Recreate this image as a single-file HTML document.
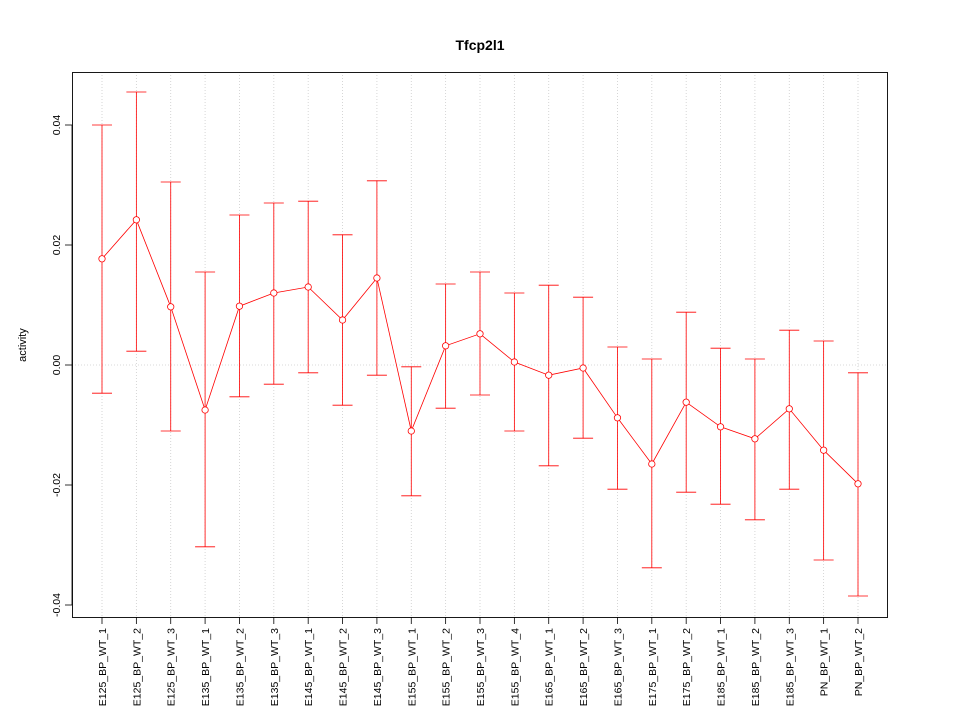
<!DOCTYPE html>
<html><head><meta charset="utf-8"><style>body{margin:0;background:#fff}svg{display:block}</style></head>
<body>
<svg id="chart" width="960" height="720" xmlns="http://www.w3.org/2000/svg" font-family="Liberation Sans, sans-serif">
<rect width="960" height="720" fill="#fff"/>
<text x="480" y="50" text-anchor="middle" font-size="14" font-weight="bold">Tfcp2l1</text>
<text transform="translate(26,345) rotate(-90)" text-anchor="middle" font-size="11">activity</text>
<g id="grid"></g><g id="axes"></g><g id="marks"></g>
<rect x="72.5" y="72.5" width="815" height="545" fill="none" stroke="#000" stroke-width="0.9"/>
</svg>
<script>
const categories=["E125_BP_WT_1","E125_BP_WT_2","E125_BP_WT_3","E135_BP_WT_1","E135_BP_WT_2","E135_BP_WT_3","E145_BP_WT_1","E145_BP_WT_2","E145_BP_WT_3","E155_BP_WT_1","E155_BP_WT_2","E155_BP_WT_3","E155_BP_WT_4","E165_BP_WT_1","E165_BP_WT_2","E165_BP_WT_3","E175_BP_WT_1","E175_BP_WT_2","E185_BP_WT_1","E185_BP_WT_2","E185_BP_WT_3","PN_BP_WT_1","PN_BP_WT_2"];
const values=[0.0177,0.0242,0.0097,-0.0075,0.0098,0.012,0.013,0.0075,0.0145,-0.011,0.0032,0.0052,0.0005,-0.0017,-0.0005,-0.0088,-0.0165,-0.0062,-0.0103,-0.0123,-0.0073,-0.0142,-0.0198];
const upper=[0.040,0.0455,0.0305,0.0155,0.025,0.027,0.0273,0.0217,0.0307,-0.0003,0.0135,0.0155,0.012,0.0133,0.0113,0.003,0.001,0.0088,0.0028,0.001,0.0058,0.004,-0.0013];
const lower=[-0.0047,0.0023,-0.011,-0.0303,-0.0053,-0.0032,-0.0013,-0.0067,-0.0017,-0.0218,-0.0072,-0.005,-0.011,-0.0168,-0.0122,-0.0207,-0.0338,-0.0212,-0.0232,-0.0258,-0.0207,-0.0325,-0.0385];
const yTicks=[-0.04,-0.02,0,0.02,0.04];
const yTickLabels=["-0.04","-0.02","0.00","0.02","0.04"];
const NS="http://www.w3.org/2000/svg";
const x=i=>102+i*(858-102)/(categories.length-1);
const y=v=>365-v*6000;
function mk(p,tag,a){const e=document.createElementNS(NS,tag);for(const k in a)e.setAttribute(k,a[k]);p.appendChild(e);return e;}
const grid=document.getElementById('grid'),axes=document.getElementById('axes'),marks=document.getElementById('marks');
categories.forEach((c,i)=>{
 const g=mk(grid,'line',{x1:x(i),x2:x(i),y1:72,y2:617,stroke:'#ccc','stroke-dasharray':'1,2','stroke-width':0.8});
 
 
 const t=mk(axes,'line',{x1:x(i),x2:x(i),y1:617,y2:624,stroke:'#000','stroke-width':0.8});
 
 
 const l=mk(axes,'text',{transform:`translate(${x(i)+4},628) rotate(-90)`,'text-anchor':'end','font-size':'10.5'});
 l.textContent=c;
 
 
});
const hz=mk(grid,'line',{x1:72,x2:887,y1:y(0),y2:y(0),stroke:'#ccc','stroke-dasharray':'1,2','stroke-width':0.8});


mk(axes,'line',{x1:72,x2:72,y1:y(yTicks[0]),y2:y(yTicks[yTicks.length-1]),stroke:'#000','stroke-width':0.8});
yTicks.forEach((v,i)=>{
 const t=mk(axes,'line',{x1:65,x2:72,y1:y(v),y2:y(v),stroke:'#000','stroke-width':0.8});
 
 
 const l=mk(axes,'text',{transform:`translate(${60},${y(v)}) rotate(-90)`,'text-anchor':'middle','font-size':'10.5'});
 l.textContent=yTickLabels[i];
 
 
});
categories.forEach((c,i)=>{
 const b=mk(marks,'path',{d:`M${x(i)},${y(upper[i])}V${y(lower[i])}M${x(i)-10},${y(upper[i])}H${x(i)+10}M${x(i)-10},${y(lower[i])}H${x(i)+10}`,stroke:'#f00',fill:'none','stroke-width':0.8});
 
 
});
const ln=mk(marks,'polyline',{points:values.map((v,i)=>x(i)+','+y(v)).join(' '),fill:'none',stroke:'#f00','stroke-width':0.8});


values.forEach((v,i)=>{
 const p=mk(marks,'circle',{cx:x(i),cy:y(v),r:3.2,fill:'#fff',stroke:'#f00','stroke-width':0.8});
 
 
});
</script>
</body></html>
